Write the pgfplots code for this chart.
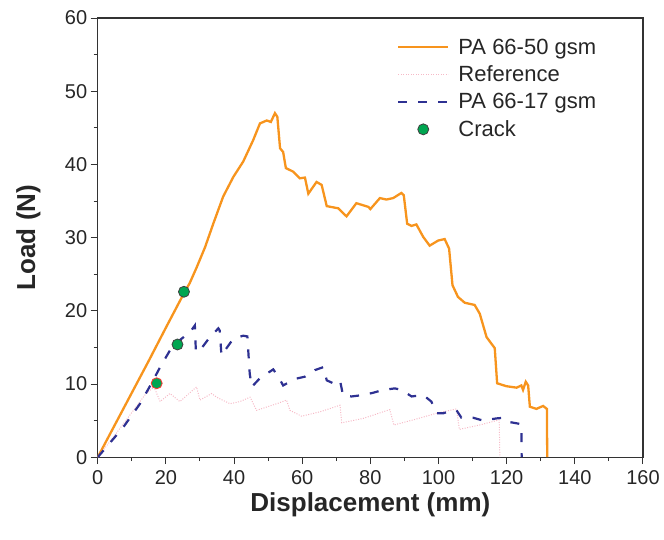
\documentclass[border=0pt]{standalone}
\usepackage{fontspec}
\setmainfont{Liberation Sans}
\usepackage{xcolor}
\definecolor{pa50}{RGB}{247,148,29}
\definecolor{pa17}{RGB}{46,49,146}
\definecolor{refpink}{RGB}{246,185,198}
\definecolor{crack}{RGB}{0,166,81}
\usepackage{pgfplots}
\pgfplotsset{compat=1.18}
\usetikzlibrary{calc}

\begin{document}
\begin{tikzpicture}
\begin{axis}[name=ax,scale only axis,width=545bp,height=439bp,
  xmin=0,xmax=160,ymin=0,ymax=60,
  xtick distance=20,ytick distance=10,
  minor x tick num=1,minor y tick num=1,
  tick pos=left,tick align=outside,
  major tick length=7bp,minor tick length=4bp,
  axis line style={line width=1.1bp,black!80},
  every tick/.style={line width=1bp,black!80},
  /pgf/number format/assume math mode=true,
  ticklabel style={font=\fontsize{20bp}{24bp}\selectfont,text=black!85},
  xticklabel shift=3bp,
  xlabel={Displacement (mm)},ylabel={Load (N)},
  label style={font=\fontsize{26bp}{30bp}\selectfont\bfseries,text=black!85},
  xlabel style={at={(axis description cs:0.5,-0.108)},anchor=center},
  ylabel style={at={(axis description cs:-0.127,0.5)},anchor=center},
  legend style={at={(0.545,0.962)},anchor=north west,draw=none,fill=none,
    font=\fontsize{22bp}{26bp}\selectfont,text=black!85,
    row sep=6.2bp,inner sep=2bp,
    /tikz/every odd column/.append style={column sep=7bp}},
  legend cell align=left,
  legend image code/.code={\draw[mark repeat=2,mark phase=2,#1]
    plot coordinates {(0bp,0bp) (25bp,0bp) (50bp,0bp)};},
]
\addplot[pa50,line width=2.3bp] coordinates {
(0,0)(5,4.4)(10,8.8)(15,13.2)(20,17.7)(25.3,22.4)(27.0,23.8)(29.0,25.9)
(31.5,28.7)(33.9,31.9)(36.8,35.6)(39.8,38.3)(42.7,40.4)(45.6,43.3)(47.6,45.6)
(49.6,46.0)(50.8,45.8)(52.0,47.0)(52.7,46.5)(53.5,42.2)(54.4,41.7)(55.2,39.5)
(57.4,39.0)(59.3,38.1)(60.8,38.2)(61.8,36.0)(64.2,37.6)(65.7,37.2)(67.2,34.3)
(70.6,34.0)(73.0,32.9)(75.9,34.7)(79.4,34.2)(80.0,33.9)(82.8,35.4)(84.7,35.2)
(86.7,35.4)(89.1,36.1)(89.8,35.8)(90.8,31.9)(92.1,31.6)(93.5,31.8)(95.5,30.1)
(97.4,28.9)(99.9,29.6)(101.8,29.8)(103.1,28.5)(104.1,23.5)(105.7,21.9)(107.7,21.1)
(110.6,20.8)(112.1,19.6)(114.1,16.4)(116.5,14.9)(117.2,10.1)(119.9,9.7)(122.9,9.5)
(124.3,9.8)(124.8,9.2)(125.6,10.3)(126.3,9.8)(126.8,6.9)(128.7,6.6)(130.7,7.0)
(131.8,6.6)(131.9,0)};
\addlegendentry{PA 66-50 gsm}
\addplot[refpink,line width=1bp,dash pattern=on 1bp off 1.5bp] coordinates {
(0,0)(5,3.0)(10,6.1)(14,8.6)(16.5,9.6)(18.3,7.6)(21.2,8.7)(24.1,7.6)(28.0,9.2)
(29.0,9.6)(30,7.8)(33.4,8.7)(34.9,8.2)(38.8,7.3)(41.7,7.6)(44.7,8.2)(46.6,6.4)
(52.5,7.3)(55.4,7.8)(56.4,6.4)(59.8,5.6)(65.2,6.2)(71.1,7.1)(71.6,4.7)(77.9,5.3)
(85.7,6.5)(86.9,4.4)(92.6,5.1)(99.4,6.0)(105.3,6.6)(106.1,3.8)(112.1,4.4)
(117.8,5.1)(118.0,0)};
\addlegendentry{Reference}
\addplot[pa17,line width=2.2bp,dash pattern=on 9bp off 11bp] coordinates {
(0,0)(7.5,4.1)(12.4,7.3)(15.8,10.1)(18.3,12.3)(21.2,14.6)(23.4,15.4)(24.1,16.0)
(27.1,17.1)(28.5,18.0)(28.8,14.4)(30,14.6)(32.9,16.4)(35.4,17.6)(35.8,17.3)
(36.3,13.9)(37.8,14.9)(39.8,16.2)(42.7,16.6)(43.9,16.5)(44.6,11.4)(45.2,9.6)
(47.6,10.8)(51.5,12.0)(53.0,11.0)(54.4,9.8)(57.9,10.7)(60.8,11.0)(63.7,11.9)
(66.2,12.3)(67.2,10.5)(69.1,10.1)(71.1,10.5)(72.0,8.4)(74.5,8.3)(77.9,8.5)
(80.8,8.8)(83.8,9.2)(87.2,9.4)(89.1,9.2)(92.1,8.3)(95.5,8.5)(97.9,7.6)(99.4,6.0)
(101.4,6.0)(103.8,6.4)(105.3,6.4)(106.7,5.4)(110.1,5.4)(113.1,5.0)(117.0,5.3)
(119.4,5.4)(120.9,4.8)(123.3,4.6)(124.3,4.5)(124.4,0)};
\addlegendentry{PA 66-17 gsm}
\addplot[only marks,mark=*,mark size=5.5bp,
  mark options={fill=crack,draw=black!75,line width=0.8bp}] coordinates {
(25.3,22.6)(23.4,15.4)};
\addlegendentry{Crack}
\addplot[only marks,mark=*,mark size=5.5bp,forget plot,
  mark options={fill=crack,draw=red!80,line width=0.8bp}] coordinates {
(17.3,10.1)};
\end{axis}
\path ([shift={(-97.7bp,-82bp)}]ax.south west) rectangle ([shift={(21bp,18bp)}]ax.north east);
\end{tikzpicture}
\end{document}
